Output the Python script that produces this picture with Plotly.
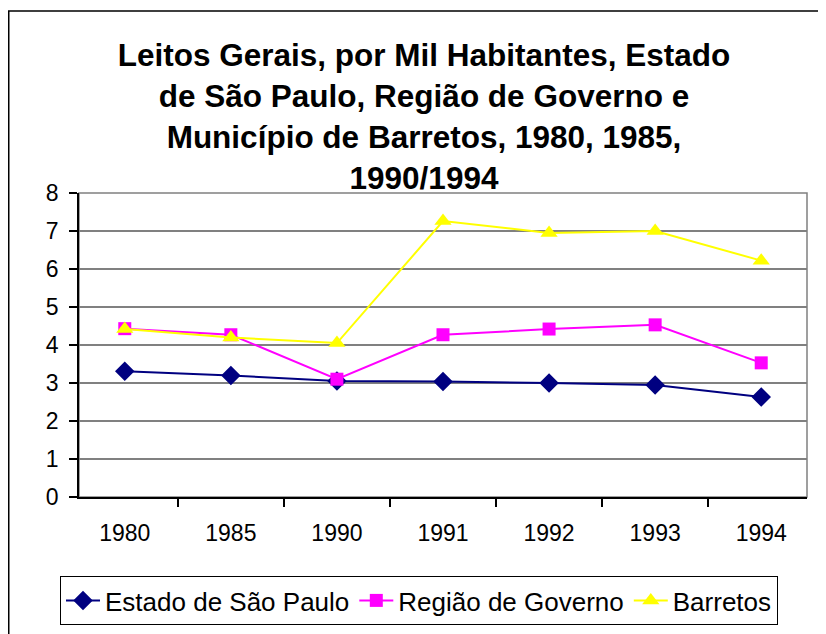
import plotly.graph_objects as go

years = ["1980", "1985", "1990", "1991", "1992", "1993", "1994"]
estado_sp = [3.31, 3.20, 3.05, 3.04, 3.00, 2.95, 2.63]
regiao_governo = [4.43, 4.27, 3.10, 4.27, 4.42, 4.53, 3.53]
barretos = [4.42, 4.20, 4.05, 7.26, 6.95, 7.00, 6.22]

title_text = ("Leitos Gerais, por Mil Habitantes, Estado<br>de São Paulo, Região de Governo e<br>"
              "Município de Barretos, 1980, 1985,<br>1990/1994")

FONT = "Liberation Sans, Arial, sans-serif"

fig = go.Figure()
fig.add_trace(go.Scatter(x=years, y=estado_sp, name="Estado de São Paulo", mode="lines+markers",
                         line=dict(color="#000080", width=2),
                         marker=dict(symbol="diamond", size=15, color="#000080")))
fig.add_trace(go.Scatter(x=years, y=regiao_governo, name="Região de Governo", mode="lines+markers",
                         line=dict(color="#FF00FF", width=2),
                         marker=dict(symbol="square", size=13, color="#FF00FF")))
fig.add_trace(go.Scatter(x=years, y=barretos, name="Barretos", mode="lines+markers",
                         line=dict(color="#FFFF00", width=2),
                         marker=dict(symbol="triangle-up", size=15, color="#FFFF00")))

# page body has an 8px margin; figure coordinates = screen - 8
W, H = 818, 626
L, R, T, B = 71, 799, 185, 489
pw, ph = R - L, B - T

def px_x(v):
    return (v - L) / pw

def px_y(v):
    return (B - v) / ph

fig.update_layout(
    width=W, height=H,
    margin=dict(l=L, r=W - R, t=T, b=H - B, pad=0),
    paper_bgcolor="white", plot_bgcolor="white",
    font=dict(family=FONT, size=23, color="black"),
    title=dict(text=title_text, x=416 / W, xanchor="center", xref="container",
               y=1 - 58 / H, yanchor="top", yref="container",
               font=dict(family=FONT, size=31.5, color="black", weight="bold")),
    showlegend=True,
    legend=dict(orientation="h", xref="container", yref="container",
                x=411 / W, xanchor="center", y=1 - 568 / H, yanchor="top",
                bordercolor="black", borderwidth=1, bgcolor="white",
                font=dict(family=FONT, size=26, color="black"),
                itemwidth=34, tracegroupgap=0),
    xaxis=dict(type="category", showgrid=False, showline=True, linecolor="black", linewidth=1.5,
               ticks="outside", tickson="boundaries", ticklen=8, tickcolor="black", tickwidth=1.5,
               ticklabelstandoff=15, tickfont=dict(size=23, color="black")),
    yaxis=dict(range=[0, 8], dtick=1, showgrid=True, gridcolor="#808080", gridwidth=1.5,
               showline=True, linecolor="black", linewidth=1.5, zeroline=False,
               ticks="outside", ticklen=8, tickcolor="black", tickwidth=1.5,
               ticklabelstandoff=6, tickfont=dict(size=23, color="black")),
    shapes=[
        dict(type="rect", xref="paper", yref="paper", x0=0, x1=1, y0=0, y1=1,
             line=dict(color="#808080", width=1.5), layer="below"),
        dict(type="rect", xref="paper", yref="paper",
             x0=px_x(0.75), x1=px_x(840), y0=px_y(650), y1=px_y(3),
             line=dict(color="black", width=1.5), layer="below"),
    ],
)

fig.write_html("out.html")
